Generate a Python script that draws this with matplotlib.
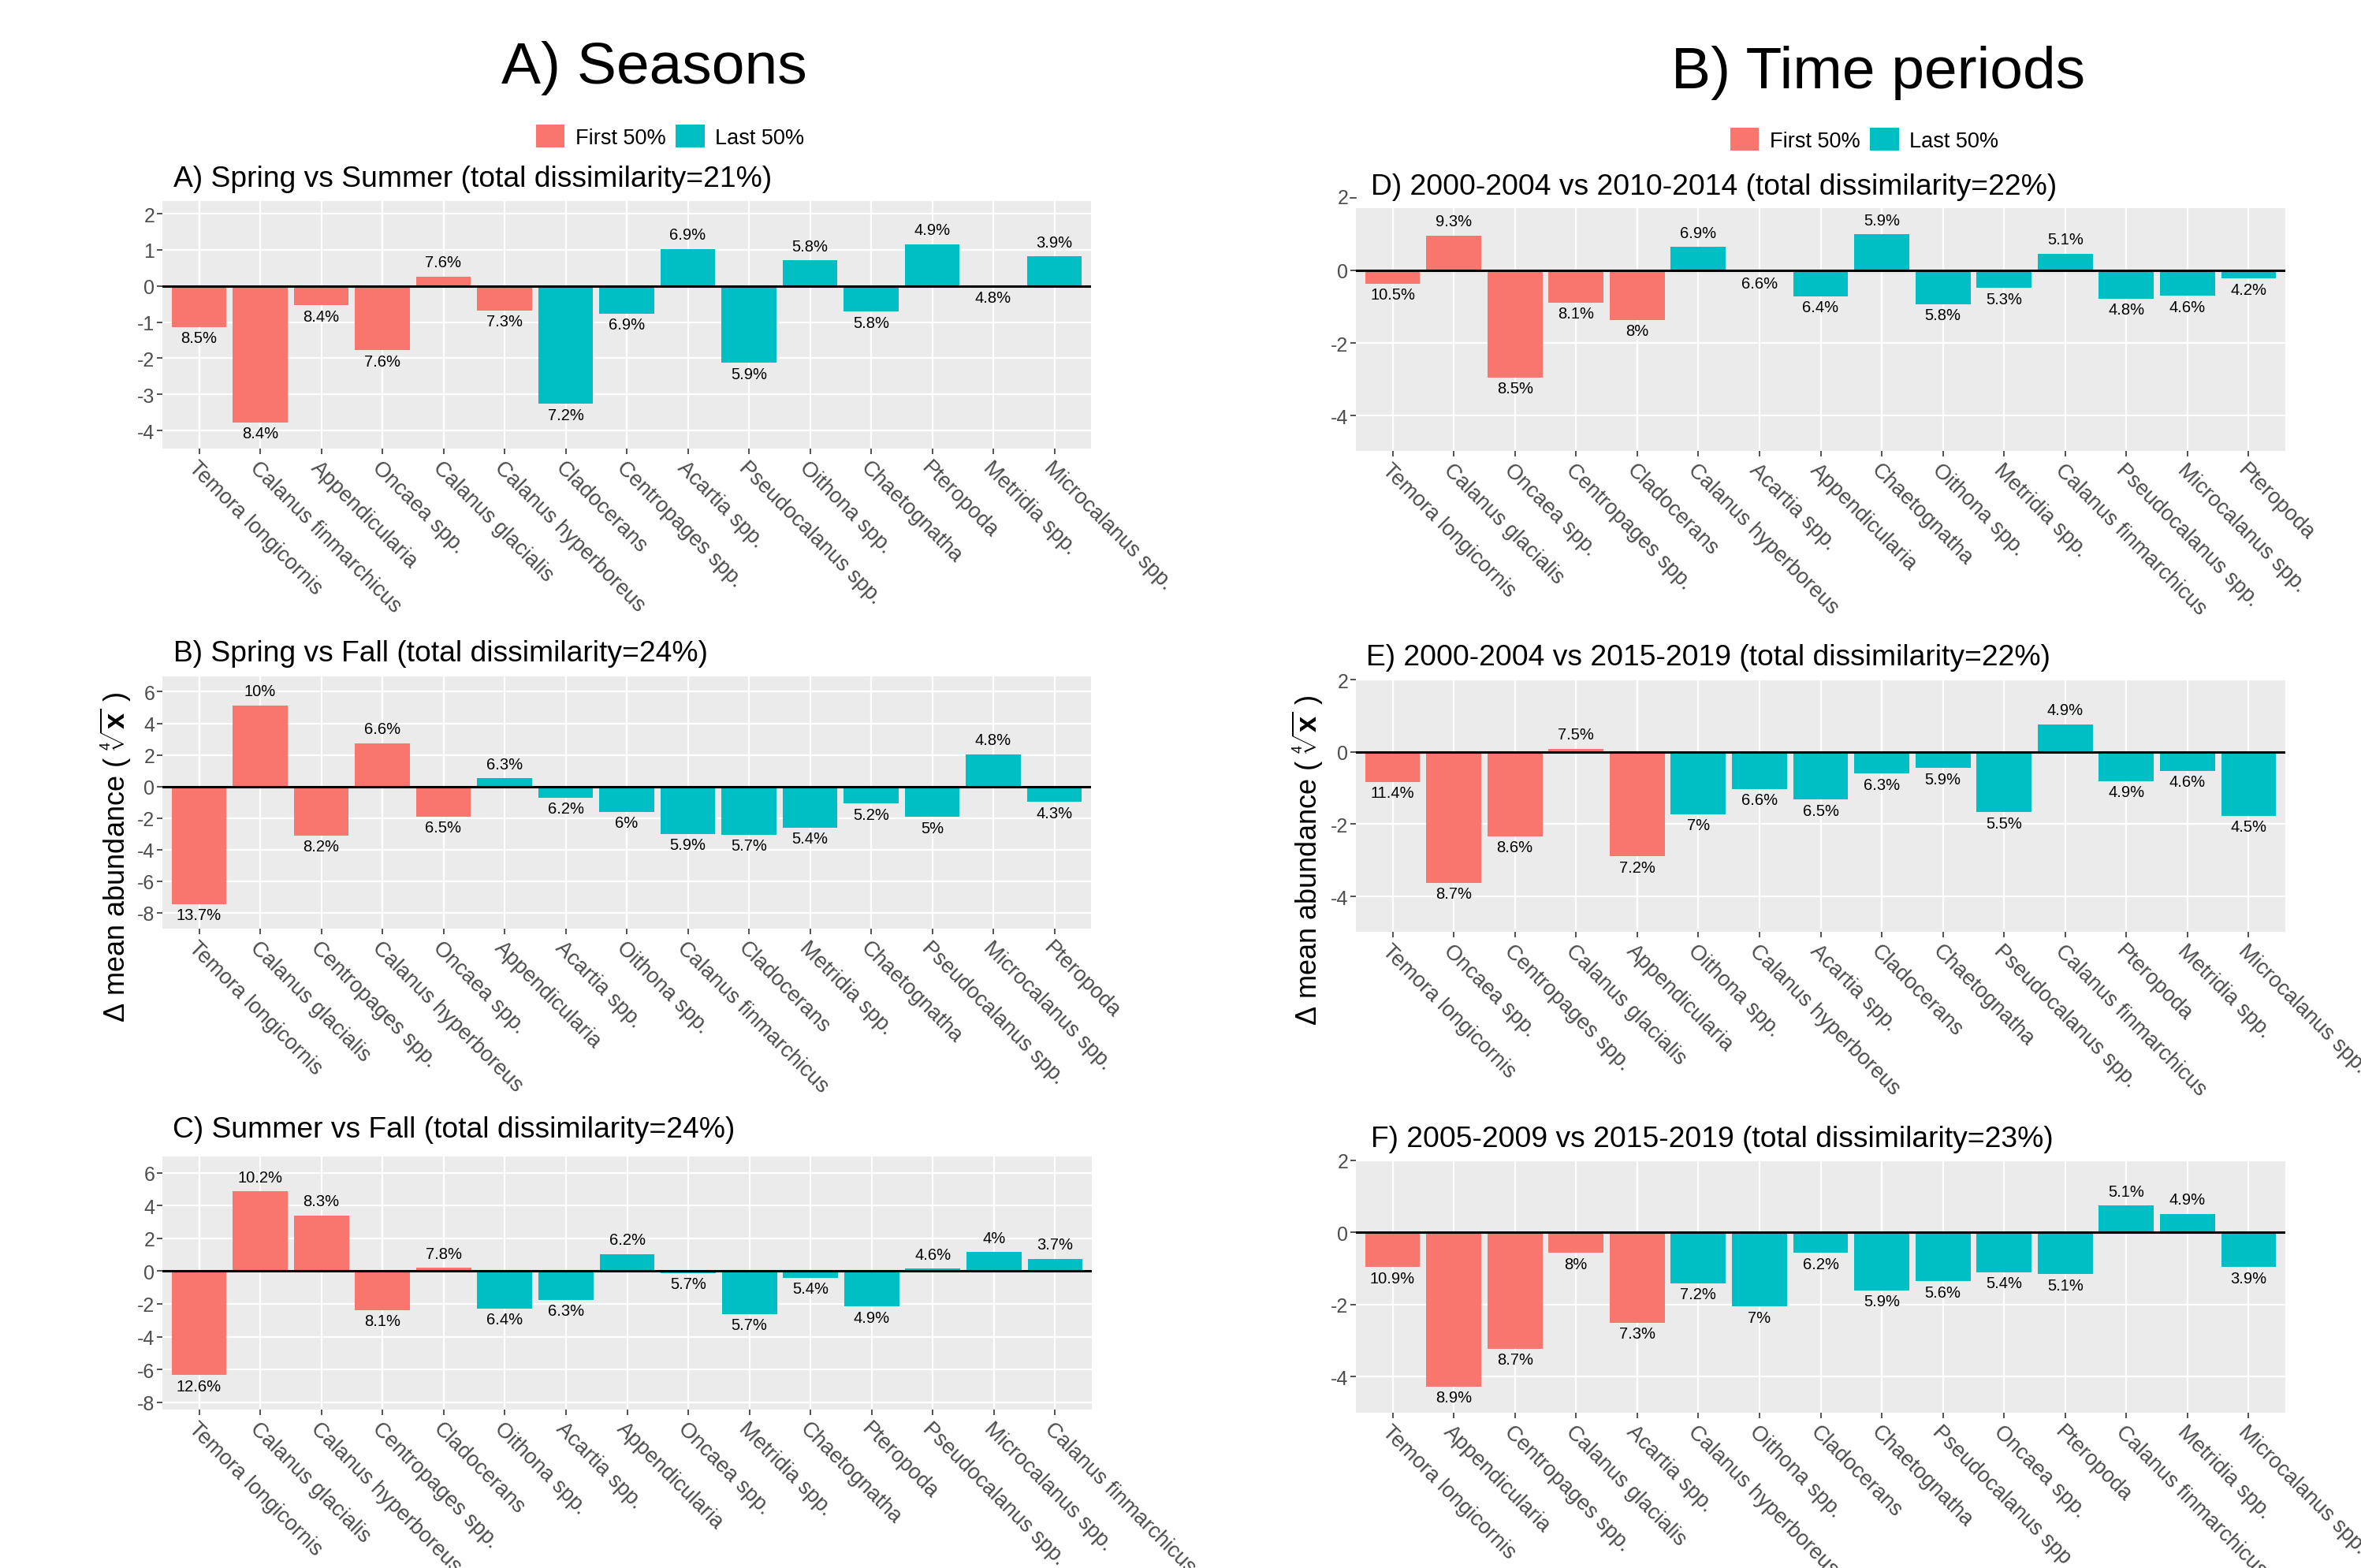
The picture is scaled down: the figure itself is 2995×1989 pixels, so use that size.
import matplotlib.pyplot as plt
import matplotlib.transforms as mtransforms
from matplotlib.patches import Patch

plt.rcParams['font.family'] = ['Liberation Sans', 'DejaVu Sans']
plt.rcParams['mathtext.fontset'] = 'custom'
plt.rcParams['mathtext.rm'] = 'Liberation Sans'
plt.rcParams['mathtext.it'] = 'Liberation Sans'
plt.rcParams['mathtext.bf'] = 'Liberation Sans:bold'

RED = '#F8766D'
TEAL = '#00BFC4'
W, H = 2995, 1990

# ---- data ----
a_title = 'A) Spring vs Summer (total dissimilarity=21%)'
a_species = ['Temora longicornis', 'Calanus finmarchicus', 'Appendicularia', 'Oncaea spp.',
             'Calanus glacialis', 'Calanus hyperboreus', 'Cladocerans', 'Centropages spp.',
             'Acartia spp.', 'Pseudocalanus spp.', 'Oithona spp.', 'Chaetognatha',
             'Pteropoda', 'Metridia spp.', 'Microcalanus spp.']
a_values = [-1.14, -3.78, -0.54, -1.78, 0.26, -0.68, -3.26, -0.76, 1.03, -2.13, 0.71, -0.71,
            1.15, -0.02, 0.82]
a_pct = ['8.5%', '8.4%', '8.4%', '7.6%', '7.6%', '7.3%', '7.2%', '6.9%', '6.9%', '5.9%',
         '5.8%', '5.8%', '4.9%', '4.8%', '3.9%']
a_first = 6

b_title = 'B) Spring vs Fall (total dissimilarity=24%)'
b_species = ['Temora longicornis', 'Calanus glacialis', 'Centropages spp.', 'Calanus hyperboreus',
             'Oncaea spp.', 'Appendicularia', 'Acartia spp.', 'Oithona spp.',
             'Calanus finmarchicus', 'Cladocerans', 'Metridia spp.', 'Chaetognatha',
             'Pseudocalanus spp.', 'Microcalanus spp.', 'Pteropoda']
b_values = [-7.44, 5.14, -3.11, 2.73, -1.9, 0.52, -0.70, -1.6, -3.01, -3.06, -2.6, -1.08,
            -1.93, 2.03, -0.98]
b_pct = ['13.7%', '10%', '8.2%', '6.6%', '6.5%', '6.3%', '6.2%', '6%', '5.9%', '5.7%',
         '5.4%', '5.2%', '5%', '4.8%', '4.3%']
b_first = 5

c_title = 'C) Summer vs Fall (total dissimilarity=24%)'
c_species = ['Temora longicornis', 'Calanus glacialis', 'Calanus hyperboreus', 'Centropages spp.',
             'Cladocerans', 'Oithona spp.', 'Acartia spp.', 'Appendicularia', 'Oncaea spp.',
             'Metridia spp.', 'Chaetognatha', 'Pteropoda', 'Pseudocalanus spp.',
             'Microcalanus spp.', 'Calanus finmarchicus']
c_values = [-6.34, 4.86, 3.41, -2.38, 0.21, -2.29, -1.74, 1.03, -0.1, -2.61, -0.39, -2.16,
            0.16, 1.16, 0.76]
c_pct = ['12.6%', '10.2%', '8.3%', '8.1%', '7.8%', '6.4%', '6.3%', '6.2%', '5.7%', '5.7%',
         '5.4%', '4.9%', '4.6%', '4%', '3.7%']
c_first = 5

d_title = 'D) 2000-2004 vs 2010-2014 (total dissimilarity=22%)'
d_species = ['Temora longicornis', 'Calanus glacialis', 'Oncaea spp.', 'Centropages spp.',
             'Cladocerans', 'Calanus hyperboreus', 'Acartia spp.', 'Appendicularia',
             'Chaetognatha', 'Oithona spp.', 'Metridia spp.', 'Calanus finmarchicus',
             'Pseudocalanus spp.', 'Microcalanus spp.', 'Pteropoda']
d_values = [-0.37, 0.95, -2.95, -0.89, -1.37, 0.64, -0.05, -0.72, 0.99, -0.93, -0.49, 0.46,
            -0.78, -0.70, -0.23]
d_pct = ['10.5%', '9.3%', '8.5%', '8.1%', '8%', '6.9%', '6.6%', '6.4%', '5.9%', '5.8%',
         '5.3%', '5.1%', '4.8%', '4.6%', '4.2%']
d_first = 5

e_title = 'E) 2000-2004 vs 2015-2019 (total dissimilarity=22%)'
e_species = ['Temora longicornis', 'Oncaea spp.', 'Centropages spp.', 'Calanus glacialis',
             'Appendicularia', 'Oithona spp.', 'Calanus hyperboreus', 'Acartia spp.',
             'Cladocerans', 'Chaetognatha', 'Pseudocalanus spp.', 'Calanus finmarchicus',
             'Pteropoda', 'Metridia spp.', 'Microcalanus spp.']
e_values = [-0.83, -3.63, -2.33, 0.09, -2.89, -1.72, -1.03, -1.32, -0.60, -0.45, -1.67, 0.76,
            -0.81, -0.52, -1.77]
e_pct = ['11.4%', '8.7%', '8.6%', '7.5%', '7.2%', '7%', '6.6%', '6.5%', '6.3%', '5.9%',
         '5.5%', '4.9%', '4.9%', '4.6%', '4.5%']
e_first = 5

f_title = 'F) 2005-2009 vs 2015-2019 (total dissimilarity=23%)'
f_species = ['Temora longicornis', 'Appendicularia', 'Centropages spp.', 'Calanus glacialis',
             'Acartia spp.', 'Calanus hyperboreus', 'Oithona spp.', 'Cladocerans',
             'Chaetognatha', 'Pseudocalanus spp', 'Oncaea spp.', 'Pteropoda',
             'Calanus finmarchicus', 'Metridia spp.', 'Microcalanus spp.']
f_values = [-0.96, -4.27, -3.22, -0.57, -2.5, -1.41, -2.05, -0.57, -1.6, -1.35, -1.10, -1.16,
            0.75, 0.52, -0.96]
f_pct = ['10.9%', '8.9%', '8.7%', '8%', '7.3%', '7.2%', '7%', '6.2%', '5.9%', '5.6%',
         '5.4%', '5.1%', '5.1%', '4.9%', '3.9%']
f_first = 5

ylab = r'$\Delta$ mean abundance ( $\sqrt[4]{\mathbf{x}}$ )'

fig = plt.figure(figsize=(W / 100, H / 100), dpi=100)


def px_axes(l, t, r, b):
    return fig.add_axes([l / W, 1 - b / H, (r - l) / W, (b - t) / H])


def panel(box, title, title_xy, species, values, pct, n_first, ylim, yticks, extra_tick=None):
    ax = px_axes(*box)
    ax.set_facecolor('#EBEBEB')
    x = list(range(len(species)))
    colors = [RED if i < n_first else TEAL for i in x]
    ax.bar(x, values, width=0.9, color=colors, zorder=2)
    ax.axhline(0, color='black', lw=2.2, zorder=3)
    for xi, v, p in zip(x, values, pct):
        off = 13 if v > 0 else -10
        ax.annotate(p, (xi, v), xytext=(0, off), textcoords='offset points',
                    ha='center', va='center', fontsize=14.5, color='black', zorder=4)
    ax.set_xlim(-0.6, len(species) - 0.4)
    ax.set_ylim(*ylim)
    ax.set_yticks(yticks)
    ax.set_yticklabels([str(t) for t in yticks])
    ax.set_xticks(x)
    ax.set_xticklabels(species, rotation=-45, ha='left', va='top', rotation_mode='anchor')
    ax.grid(True, color='white', lw=1.6, zorder=0)
    ax.set_axisbelow(True)
    for s in ax.spines.values():
        s.set_visible(False)
    ax.tick_params(axis='both', length=5, width=1.2, color='#333333', labelcolor='#4D4D4D',
                   labelsize=18, pad=2)
    ax.tick_params(axis='x', labelsize=19.5, pad=3)
    if extra_tick is not None:
        tr = mtransforms.blended_transform_factory(ax.transAxes, ax.transData)
        ax.plot([-7 / (box[2] - box[0]), 0], [extra_tick, extra_tick], transform=tr,
                color='#333333', lw=1.2, clip_on=False)
        ax.text(-9 / (box[2] - box[0]), extra_tick, str(extra_tick), transform=tr,
                ha='right', va='center', fontsize=18, color='#4D4D4D')
    fig.text(title_xy[0] / W, 1 - title_xy[1] / H, title, fontsize=26.8, ha='left',
             va='baseline', color='black')
    return ax


panel((206, 256, 1384, 570), a_title, (220, 237), a_species, a_values, a_pct, a_first,
      (-4.5, 2.35), [-4, -3, -2, -1, 0, 1, 2])
panel((206, 859, 1384, 1179), b_title, (220, 839), b_species, b_values, b_pct, b_first,
      (-9.0, 6.97), [-8, -6, -4, -2, 0, 2, 4, 6])
panel((206, 1468, 1385, 1789), c_title, (219, 1443), c_species, c_values, c_pct, c_first,
      (-8.45, 7.0), [-8, -6, -4, -2, 0, 2, 4, 6])
panel((1720, 265, 2899, 573), d_title, (1739, 247), d_species, d_values, d_pct, d_first,
      (-4.97, 1.71), [-4, -2, 0], extra_tick=2)
panel((1720, 863, 2899, 1183), e_title, (1733, 844), e_species, e_values, e_pct, e_first,
      (-4.98, 2.0), [-4, -2, 0, 2])
panel((1720, 1473, 2899, 1793), f_title, (1739, 1455), f_species, f_values, f_pct, f_first,
      (-5.0, 2.0), [-4, -2, 0, 2])

# y axis labels
fig.text(147 / W, 1 - 1088 / H, ylab, rotation=90, ha='center', va='center', fontsize=26)
fig.text(1659 / W, 1 - 1092 / H, ylab, rotation=90, ha='center', va='center', fontsize=26)

# big titles
fig.text(830 / W, 1 - 106 / H, 'A) Seasons', ha='center', va='baseline', fontsize=54)
fig.text(2383 / W, 1 - 112 / H, 'B) Time periods', ha='center', va='baseline', fontsize=54)

# legends
handles = [Patch(facecolor=RED, edgecolor='none'), Patch(facecolor=TEAL, edgecolor='none')]
labels = ['First 50%', 'Last 50%']
for cx, cy in [(850, 174), (2365, 178)]:
    fig.legend(handles, labels, loc='center', bbox_to_anchor=(cx / W, 1 - cy / H), ncol=2,
               frameon=False, fontsize=19.5, handlelength=1.36, handleheight=1.29,
               handletextpad=0.5, columnspacing=0.45, borderpad=0, borderaxespad=0)

fig.savefig('out.png', dpi=100)
